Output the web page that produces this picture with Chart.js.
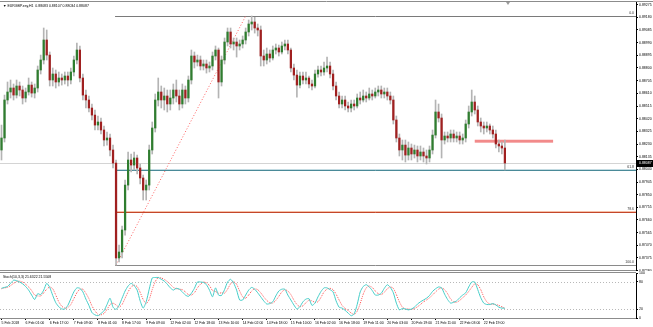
<!DOCTYPE html>
<html>
<head>
<meta charset="utf-8">
<script src="https://cdn.jsdelivr.net/npm/chart.js@4.4.0/dist/chart.umd.min.js"></script>
<style>
body { margin: 0; background: #fff; width: 653px; height: 327px; overflow: hidden; position: relative; }
canvas { position: absolute; left: 0; }
#main { top: 0; }
#stoch { top: 271px; }
</style>
</head>
<body>
<canvas id="main" width="653" height="271"></canvas>
<canvas id="stoch" width="653" height="56"></canvas>
<script>
// EURGBP H1 candles (2h per slot)
const opens = [
  0.88185,0.88275,0.88560,0.88620,0.88650,0.88597,0.88665,0.88635,0.88575,0.88620,
  0.88672,0.88612,0.88650,0.88785,0.88860,0.89010,0.88897,0.88710,0.88755,0.88695,
  0.88725,0.88710,0.88740,0.88710,0.88770,0.88860,0.88935,0.88725,0.88597,0.88560,
  0.88500,0.88447,0.88372,0.88395,0.88335,0.88260,0.88275,0.88185,0.88087,0.87375,
  0.87420,0.87585,0.87922,0.88110,0.88072,0.88125,0.88050,0.87975,0.87885,0.87922,
  0.88185,0.88350,0.88560,0.88620,0.88560,0.88590,0.88530,0.88575,0.88635,0.88590,
  0.88530,0.88635,0.88575,0.88710,0.88890,0.88845,0.88860,0.88815,0.88830,0.88800,
  0.88815,0.88890,0.88935,0.88695,0.88860,0.88995,0.89070,0.88980,0.88995,0.88965,
  0.88980,0.89010,0.89070,0.89130,0.89145,0.89100,0.89085,0.88890,0.88860,0.88905,
  0.88875,0.88935,0.88950,0.88920,0.88965,0.88980,0.88935,0.88800,0.88747,0.88672,
  0.88740,0.88710,0.88725,0.88680,0.88665,0.88755,0.88785,0.88770,0.88800,0.88815,
  0.88755,0.88665,0.88590,0.88530,0.88560,0.88515,0.88500,0.88530,0.88515,0.88575,
  0.88560,0.88590,0.88575,0.88605,0.88590,0.88620,0.88635,0.88605,0.88620,0.88590,
  0.88560,0.88410,0.88275,0.88185,0.88222,0.88147,0.88200,0.88155,0.88185,0.88140,
  0.88170,0.88140,0.88125,0.88185,0.88297,0.88470,0.88425,0.88260,0.88290,0.88275,
  0.88305,0.88275,0.88290,0.88260,0.88275,0.88380,0.88470,0.88545,0.88485,0.88395,
  0.88365,0.88350,0.88365,0.88335,0.88305,0.88230,0.88215,0.88200
];
const highs = [
  0.88372,0.88597,0.88695,0.88710,0.88680,0.88710,0.88695,0.88665,0.88650,0.88725,
  0.88695,0.88680,0.88815,0.88897,0.89100,0.89085,0.88920,0.88800,0.88785,0.88770,
  0.88755,0.88770,0.88770,0.88800,0.88890,0.88987,0.88965,0.88755,0.88635,0.88590,
  0.88530,0.88485,0.88440,0.88425,0.88365,0.88320,0.88305,0.88222,0.88110,0.87472,
  0.87615,0.87960,0.88170,0.88155,0.88170,0.88147,0.88080,0.87997,0.87960,0.88222,
  0.88395,0.88605,0.88725,0.88665,0.88650,0.88635,0.88635,0.88680,0.88710,0.88635,
  0.88680,0.88665,0.88740,0.88935,0.88920,0.88897,0.88890,0.88860,0.88860,0.88845,
  0.88920,0.88965,0.88950,0.88890,0.89025,0.89100,0.89100,0.89025,0.89025,0.89010,
  0.89040,0.89100,0.89160,0.89190,0.89180,0.89130,0.89115,0.88935,0.88950,0.88935,
  0.88965,0.88980,0.88972,0.88995,0.89010,0.89010,0.88950,0.88830,0.88785,0.88770,
  0.88770,0.88770,0.88740,0.88710,0.88785,0.88815,0.88815,0.88845,0.88882,0.88845,
  0.88785,0.88695,0.88620,0.88590,0.88590,0.88545,0.88560,0.88560,0.88605,0.88620,
  0.88635,0.88620,0.88650,0.88635,0.88650,0.88665,0.88665,0.88650,0.88650,0.88620,
  0.88590,0.88440,0.88305,0.88260,0.88260,0.88245,0.88230,0.88222,0.88215,0.88215,
  0.88200,0.88185,0.88215,0.88335,0.88560,0.88530,0.88455,0.88320,0.88320,0.88335,
  0.88335,0.88320,0.88320,0.88305,0.88410,0.88515,0.88635,0.88590,0.88515,0.88425,
  0.88395,0.88395,0.88380,0.88365,0.88335,0.88260,0.88245,0.88260
];
const lows = [
  0.88110,0.88245,0.88530,0.88575,0.88560,0.88575,0.88590,0.88530,0.88545,0.88597,
  0.88582,0.88575,0.88620,0.88755,0.88830,0.88860,0.88665,0.88665,0.88650,0.88665,
  0.88672,0.88680,0.88665,0.88680,0.88740,0.88830,0.88695,0.88560,0.88500,0.88470,
  0.88410,0.88335,0.88335,0.88305,0.88215,0.88222,0.88140,0.88050,0.87322,0.87345,
  0.87375,0.87547,0.87885,0.88020,0.88035,0.88005,0.87930,0.87810,0.87810,0.87885,
  0.88155,0.88320,0.88515,0.88500,0.88485,0.88470,0.88485,0.88530,0.88545,0.88485,
  0.88500,0.88530,0.88545,0.88680,0.88800,0.88815,0.88785,0.88785,0.88762,0.88770,
  0.88785,0.88860,0.88575,0.88665,0.88830,0.88965,0.88950,0.88935,0.88882,0.88935,
  0.88950,0.88980,0.89040,0.89085,0.89062,0.89040,0.88815,0.88815,0.88830,0.88845,
  0.88860,0.88905,0.88890,0.88905,0.88935,0.88905,0.88770,0.88710,0.88582,0.88650,
  0.88680,0.88680,0.88650,0.88635,0.88650,0.88732,0.88740,0.88747,0.88770,0.88725,
  0.88635,0.88560,0.88500,0.88500,0.88485,0.88470,0.88470,0.88485,0.88500,0.88530,
  0.88545,0.88545,0.88560,0.88560,0.88575,0.88590,0.88575,0.88575,0.88560,0.88530,
  0.88380,0.88245,0.88140,0.88110,0.88095,0.88110,0.88110,0.88125,0.88095,0.88110,
  0.88095,0.88080,0.88095,0.88155,0.88275,0.88395,0.88125,0.88230,0.88245,0.88245,
  0.88245,0.88245,0.88230,0.88230,0.88245,0.88350,0.88440,0.88455,0.88365,0.88320,
  0.88305,0.88320,0.88305,0.88275,0.88200,0.88170,0.88155,0.88035
];
const closes = [
  0.88275,0.88560,0.88620,0.88650,0.88597,0.88665,0.88635,0.88575,0.88620,0.88672,
  0.88612,0.88650,0.88785,0.88860,0.89010,0.88897,0.88710,0.88755,0.88695,0.88725,
  0.88710,0.88740,0.88710,0.88770,0.88860,0.88935,0.88725,0.88597,0.88560,0.88500,
  0.88447,0.88372,0.88395,0.88335,0.88260,0.88275,0.88185,0.88087,0.87375,0.87420,
  0.87585,0.87922,0.88110,0.88072,0.88125,0.88050,0.87975,0.87885,0.87922,0.88185,
  0.88350,0.88560,0.88620,0.88560,0.88590,0.88530,0.88575,0.88635,0.88590,0.88530,
  0.88635,0.88575,0.88710,0.88890,0.88845,0.88860,0.88815,0.88830,0.88800,0.88815,
  0.88890,0.88935,0.88695,0.88860,0.88995,0.89070,0.88980,0.88995,0.88965,0.88980,
  0.89010,0.89070,0.89130,0.89145,0.89100,0.89085,0.88890,0.88860,0.88905,0.88875,
  0.88935,0.88950,0.88920,0.88965,0.88980,0.88935,0.88800,0.88747,0.88672,0.88740,
  0.88710,0.88725,0.88680,0.88665,0.88755,0.88785,0.88770,0.88800,0.88815,0.88755,
  0.88665,0.88590,0.88530,0.88560,0.88515,0.88500,0.88530,0.88515,0.88575,0.88560,
  0.88590,0.88575,0.88605,0.88590,0.88620,0.88635,0.88605,0.88620,0.88590,0.88560,
  0.88410,0.88275,0.88185,0.88222,0.88147,0.88200,0.88155,0.88185,0.88140,0.88170,
  0.88140,0.88125,0.88185,0.88297,0.88470,0.88425,0.88260,0.88290,0.88275,0.88305,
  0.88275,0.88290,0.88260,0.88275,0.88380,0.88470,0.88545,0.88485,0.88395,0.88365,
  0.88350,0.88365,0.88335,0.88305,0.88230,0.88215,0.88200,0.88087
];

// Stoch(10,3,3): main line and signal line
const stochK = [
  66,68,70,77,84,83,80,76,70,62, 51,41,54,52,62,77,68,50,34,25,
  20,20,28,43,58,67,66,58,42,28, 12,7,5,10,16,30,44,24,19,28,
  44,60,71,77,72,62,38,22,36,64, 89,90,90,86,82,75,67,62,66,64,
  58,51,48,55,66,80,80,79,74,62, 47,67,51,50,63,80,86,78,62,40,
  40,51,62,68,64,56,47,38,31,32, 36,49,60,64,64,51,40,29,20,25,
  36,42,43,28,33,47,59,67,67,63, 58,38,24,22,17,11,5,9,30,58,
  70,74,69,61,51,51,55,66,74,68, 56,33,18,21,20,18,20,24,31,36,
  40,44,50,59,65,69,67,53,41,33, 35,38,45,51,56,69,80,80,63,45,
  33,30,30,32,29,24,22,21.6322
];
const stochD = [
  65,67,68,72,77,81,82,80,75,69, 61,51,49,49,56,64,69,65,51,36,
  26,22,23,30,43,56,64,64,55,43, 27,16,8,7,10,19,30,33,29,24,
  30,44,58,69,73,70,57,41,32,41, 63,81,90,89,86,81,75,68,65,64,
  63,58,52,51,56,67,75,80,78,72, 61,59,55,56,55,64,76,81,75,60,
  47,44,51,60,65,63,56,47,39,34, 33,39,48,58,63,60,52,40,30,25,
  27,34,40,38,35,36,46,58,64,66, 63,53,40,28,21,17,11,8,15,32,
  53,67,71,68,60,54,52,57,65,69, 66,52,36,24,20,20,19,21,25,30,
  36,40,45,51,58,64,67,63,54,42, 36,35,39,45,51,59,68,76,74,63,
  47,36,31,31,30,28,25,21.5508
];

const timeTicks = ["5 Feb 2018", "6 Feb 01:00", "6 Feb 17:00", "7 Feb 09:00", "8 Feb 01:00",
  "8 Feb 17:00", "9 Feb 09:00", "12 Feb 02:00", "12 Feb 18:00", "13 Feb 10:00", "14 Feb 02:00",
  "14 Feb 18:00", "15 Feb 10:00", "16 Feb 02:00", "16 Feb 18:00", "19 Feb 11:00", "20 Feb 03:00",
  "20 Feb 19:00", "21 Feb 11:00", "22 Feb 03:00", "22 Feb 19:00"];
const priceTicks = [0.89275, 0.89180, 0.89085, 0.88990, 0.88895, 0.88800, 0.88705, 0.88610,
  0.88515, 0.88420, 0.88325, 0.88230, 0.88135, 0.88040, 0.87945, 0.87850, 0.87755, 0.87660,
  0.87565, 0.87470, 0.87375, 0.87280];
const stochTicks = [100, 80, 20, 0];
const stochLevels = [80, 20];

// drawn objects
const fibLevels = [0, 61.8, 78.6, 100];
const fibHigh = 0.89190, fibLow = 0.87322;
const fibFrom = 38, fibTo = 81;
const zoneFrom = 157, zoneTo = 183, zoneLow = 0.88240, zoneHigh = 0.88262;
const lastPrice = 0.88087;
const title = "EURGBP.esy,H1  0.88083 0.88107 0.88034 0.88087";
const stochTitle = "Stoch(10,3,3) 21.6322 21.5508";

const slots = 211;   // 2-hour slots across the plot, incl. empty right margin
const labels = Array.from({length: slots}, (_, i) => i);
const FAMILY = "'Liberation Sans', Arial, sans-serif";
const FONT = {family: FAMILY, size: 3.5};
const UP = '#2f7d2f', DOWN = '#a02020';

function hline(ctx, x1, y, x2) {
    ctx.beginPath(); ctx.moveTo(x1, y); ctx.lineTo(x2, y); ctx.stroke();
}

const overlays = {
    id: 'overlays',
    beforeDatasetsDraw(chart) {
        const {ctx, chartArea: a, scales: {x, y}} = chart;
        ctx.save();
        ctx.lineWidth = 1;
        ctx.strokeStyle = '#d4d4d4';
        hline(ctx, a.left, Math.round(y.getPixelForValue(lastPrice)) + 0.5, a.right);

        const fx = x.getPixelForValue(fibFrom) - 1;
        const halo = ['', 'rgba(120,175,190,0.45)', 'rgba(240,150,110,0.6)', ''];
        const core = ['#7a7a7a', '#4a8a98', '#c4472a', '#8a8a8a'];
        fibLevels.forEach((lv, k) => {
            const yy = Math.round(y.getPixelForValue(fibHigh - lv / 100 * (fibHigh - fibLow)));
            if (halo[k]) { ctx.strokeStyle = halo[k]; ctx.lineWidth = 2; hline(ctx, fx, yy, a.right); }
            ctx.strokeStyle = core[k]; ctx.lineWidth = 1; hline(ctx, fx, yy + 0.5, a.right);
        });

        // trend line low -> high
        ctx.strokeStyle = '#ff6060';
        ctx.setLineDash([1, 2]);
        ctx.beginPath();
        ctx.moveTo(x.getPixelForValue(fibFrom), y.getPixelForValue(fibLow));
        ctx.lineTo(x.getPixelForValue(fibTo), y.getPixelForValue(fibHigh));
        ctx.stroke();
        ctx.setLineDash([]);

        // zone
        ctx.fillStyle = '#f28a8a';
        const zt = y.getPixelForValue(zoneHigh), zb = y.getPixelForValue(zoneLow);
        ctx.fillRect(x.getPixelForValue(zoneFrom), zt, x.getPixelForValue(zoneTo) - x.getPixelForValue(zoneFrom), zb - zt);
        ctx.restore();
    },
    afterDraw(chart) {
        const {ctx, chartArea: a, scales: {y}} = chart;
        ctx.save();
        ctx.font = '3.5px ' + FAMILY;
        ctx.fillStyle = '#333';
        ctx.textBaseline = 'bottom';
        ctx.textAlign = 'right';
        fibLevels.forEach(lv => {
            const yy = y.getPixelForValue(fibHigh - lv / 100 * (fibHigh - fibLow));
            ctx.fillText(lv.toFixed(1), a.right - 2, yy - 1);
        });
        // title
        ctx.textAlign = 'left';
        ctx.textBaseline = 'middle';
        ctx.fillStyle = '#000';
        ctx.fillText('\u25BC ' + title, 3, 6);
        // last price box
        const py = Math.round(y.getPixelForValue(lastPrice));
        ctx.fillStyle = '#000';
        ctx.fillRect(a.right + 1, py - 3, 16, 7);
        ctx.fillStyle = '#fff';
        ctx.fillText(lastPrice.toFixed(5), a.right + 3, py + 0.5);
        // frame
        ctx.strokeStyle = '#8c8c8c';
        ctx.lineWidth = 1;
        hline(ctx, 0, a.top - 0.5, chart.width);
        hline(ctx, 0, a.bottom - 0.5, a.right);
        ctx.fillStyle = '#9a9a9a';
        ctx.beginPath();
        ctx.moveTo(506, a.top); ctx.lineTo(510, a.top); ctx.lineTo(508, a.top + 3); ctx.fill();
        ctx.restore();
    }
};

new Chart(document.getElementById('main'), {
    type: 'bar',
    data: {
        labels: labels,
        datasets: [
            {
                label: 'body',
                data: opens.map((o, i) => [o, closes[i]]),
                backgroundColor: opens.map((o, i) => closes[i] >= o ? UP : DOWN),
                barThickness: 1.6,
                minBarLength: 1,
                grouped: false,
                order: 0
            },
            {
                label: 'wick',
                data: lows.map((l, i) => [l, highs[i]]),
                backgroundColor: '#b4b4b4',
                barThickness: 1,
                grouped: false,
                order: 1
            }
        ]
    },
    options: {
        responsive: false,
        animation: false,
        devicePixelRatio: 1,
        layout: {padding: {top: 2, left: 0, right: 0, bottom: 0}},
        plugins: {legend: {display: false}, tooltip: {enabled: false}},
        scales: {
            x: {display: false, offset: true},
            y: {
                position: 'right',
                min: 0.872775,
                max: 0.89295,
                bounds: 'data',
                afterBuildTicks: ax => { ax.ticks = priceTicks.map(v => ({value: v})); },
                afterFit: ax => { ax.width = 17; ax.paddingTop = 0; ax.paddingBottom = 0; },
                ticks: {font: FONT, color: '#000', padding: 1, callback: v => v.toFixed(5)},
                grid: {drawOnChartArea: false, tickLength: 2, color: '#000'},
                border: {display: true, color: '#000'}
            }
        }
    },
    plugins: [overlays]
});

const stochDeco = {
    id: 'stochDeco',
    beforeDatasetsDraw(chart) {
        const {ctx, chartArea: a, scales: {y}} = chart;
        ctx.save();
        ctx.strokeStyle = '#b8b8b8';
        ctx.lineWidth = 1;
        ctx.setLineDash([1, 2]);
        stochLevels.forEach(v => hline(ctx, a.left, Math.round(y.getPixelForValue(v)) + 0.5, a.right));
        ctx.restore();
    },
    afterDraw(chart) {
        const {ctx, chartArea: a} = chart;
        ctx.save();
        ctx.strokeStyle = '#8c8c8c';
        ctx.lineWidth = 1;
        hline(ctx, 0, a.top - 0.5, a.right);
        ctx.font = '3.5px ' + FAMILY;
        ctx.fillStyle = '#000';
        ctx.textBaseline = 'middle';
        ctx.fillText(stochTitle, 3, a.top + 4);
        ctx.restore();
    }
};

new Chart(document.getElementById('stoch'), {
    type: 'line',
    data: {
        labels: labels,
        datasets: [
            {data: stochK, borderColor: '#45cdc8', borderWidth: 1, pointRadius: 0, tension: 0.2},
            {data: stochD, borderColor: '#ff5a5a', borderWidth: 1, borderDash: [1, 1], pointRadius: 0, tension: 0.2}
        ]
    },
    options: {
        responsive: false,
        animation: false,
        devicePixelRatio: 1,
        layout: {padding: {top: 2, left: 0, right: 0, bottom: 0}},
        plugins: {legend: {display: false}, tooltip: {enabled: false}},
        scales: {
            x: {
                offset: true,
                afterFit: ax => { ax.height = 9; ax.paddingLeft = 0; ax.paddingRight = 0; },
                ticks: {
                    autoSkip: false, maxRotation: 0, minRotation: 0, align: 'start', padding: 1,
                    font: FONT, color: '#000',
                    callback: (v, i) => (i % 8 === 0 && timeTicks[i / 8]) ? timeTicks[i / 8] : ''
                },
                grid: {
                    drawOnChartArea: false, tickLength: 2,
                    color: c => (c.index % 8 === 0 && c.index / 8 < timeTicks.length) ? '#000' : 'rgba(0,0,0,0)'
                },
                border: {display: true, color: '#8c8c8c'}
            },
            y: {
                position: 'right',
                min: 0,
                max: 100,
                bounds: 'data',
                afterBuildTicks: ax => { ax.ticks = stochTicks.map(v => ({value: v})); },
                afterFit: ax => { ax.width = 17; ax.paddingTop = 0; ax.paddingBottom = 0; },
                ticks: {font: FONT, color: '#000', padding: 1},
                grid: {drawOnChartArea: false, tickLength: 2, color: '#000'},
                border: {display: true, color: '#000'}
            }
        }
    },
    plugins: [stochDeco]
});
</script>
</body>
</html>
